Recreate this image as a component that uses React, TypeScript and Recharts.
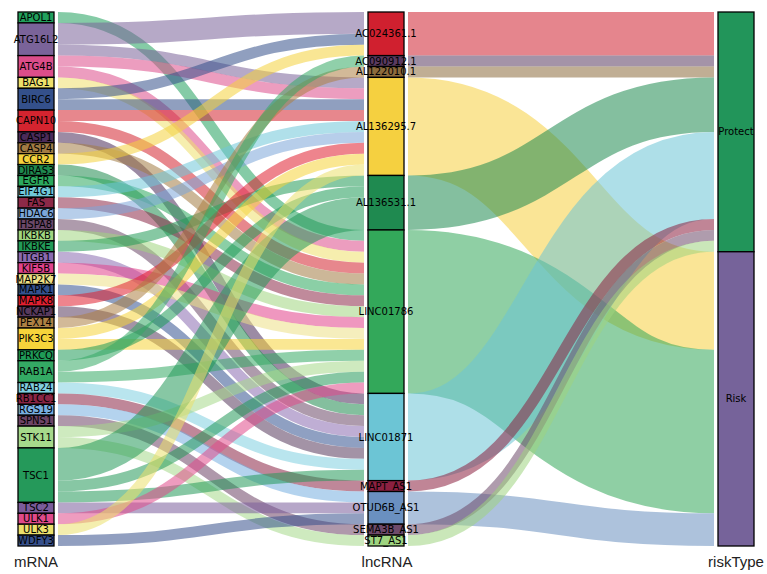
import React from 'react';
import { Sankey } from 'recharts';

const mrnaNames = [
  'APOL1', 'ATG16L2', 'ATG4B', 'BAG1', 'BIRC6', 'CAPN10', 'CASP1', 'CASP4', 'CCR2', 'DIRAS3',
  'EGFR', 'EIF4G1', 'FAS', 'HDAC6', 'HSPA8', 'IKBKB', 'IKBKE', 'ITGB1', 'KIF5B', 'MAP2K7',
  'MAPK1', 'MAPK8', 'NCKAP1', 'PEX14', 'PIK3C3', 'PRKCQ', 'RAB1A', 'RAB24', 'RB1CC1', 'RGS19',
  'SPNS1', 'STK11', 'TSC1', 'TSC2', 'ULK1', 'ULK3', 'WDFY3',
];
const mrnaColors = [
  '#21a05c', '#7a6399', '#dc4d8a', '#eee06b', '#34508b', '#d4242f', '#4b2b59', '#a27b43', '#f4d23c', '#1f8a4f',
  '#2ba85d', '#6fc7d8', '#8d2948', '#7ba6d9', '#6b4868', '#a0d67f', '#229b57', '#8a6bb0', '#e1428b', '#ede086',
  '#33528f', '#e01f2f', '#583a5d', '#ad8043', '#f6d43b', '#1f9b57', '#34a964', '#80cfe0', '#8a2545', '#77aee0',
  '#6d4466', '#a6d98b', '#25995a', '#7a5c9a', '#e04a8a', '#ebe06c', '#36508c',
];

const lncNames = [
  'AC024361.1', 'AC090912.1', 'AL122010.1', 'AL136295.7', 'AL136531.1', 'LINC01786',
  'LINC01871', 'MAPT_AS1', 'OTUD6B_AS1', 'SEMA3B_AS1', 'ST7_AS1',
];
const lncColors = [
  '#d0202f', '#5a3a60', '#8c6b3c', '#f5d040', '#1f8a50', '#33a85a',
  '#6cc5d5', '#8c2040', '#6a90c0', '#6e4a6a', '#9fd480',
];

const riskNames = ['Protect', 'Risk'];
const riskColors = ['#22955a', '#76639a'];

// mRNA -> lncRNA pairs (count of alluvia)
const mrnaLinks: [string, string, number][] = [
  ['APOL1', 'LINC01786', 1],
  ['ATG16L2', 'AC024361.1', 2],
  ['ATG16L2', 'AL136295.7', 1],
  ['ATG4B', 'AL136295.7', 1],
  ['ATG4B', 'LINC01786', 1],
  ['BAG1', 'LINC01786', 1],
  ['BIRC6', 'AC024361.1', 1],
  ['BIRC6', 'AL136295.7', 1],
  ['CAPN10', 'AL136295.7', 1],
  ['CAPN10', 'LINC01786', 1],
  ['CASP1', 'LINC01871', 1],
  ['CASP4', 'LINC01786', 1],
  ['CCR2', 'AC024361.1', 1],
  ['DIRAS3', 'LINC01871', 1],
  ['EGFR', 'LINC01786', 1],
  ['EIF4G1', 'AL136295.7', 1],
  ['FAS', 'LINC01786', 1],
  ['HDAC6', 'AL136295.7', 1],
  ['HSPA8', 'LINC01871', 1],
  ['IKBKB', 'LINC01786', 1],
  ['IKBKE', 'AL136531.1', 1],
  ['ITGB1', 'LINC01871', 1],
  ['KIF5B', 'LINC01786', 1],
  ['MAP2K7', 'LINC01786', 1],
  ['MAPK1', 'LINC01871', 1],
  ['MAPK8', 'AL136295.7', 1],
  ['NCKAP1', 'LINC01871', 1],
  ['PEX14', 'AL122010.1', 1],
  ['PIK3C3', 'AL136295.7', 1],
  ['PIK3C3', 'LINC01786', 1],
  ['PRKCQ', 'AL136531.1', 1],
  ['RAB1A', 'AC090912.1', 1],
  ['RAB1A', 'LINC01786', 1],
  ['RAB24', 'LINC01871', 1],
  ['RB1CC1', 'MAPT_AS1', 1],
  ['RGS19', 'OTUD6B_AS1', 1],
  ['SPNS1', 'SEMA3B_AS1', 1],
  ['STK11', 'LINC01786', 1],
  ['STK11', 'ST7_AS1', 1],
  ['TSC1', 'AL136531.1', 3],
  ['TSC1', 'LINC01786', 1],
  ['TSC1', 'LINC01871', 1],
  ['TSC2', 'OTUD6B_AS1', 1],
  ['ULK1', 'LINC01786', 1],
  ['ULK3', 'AL136295.7', 1],
  ['WDFY3', 'OTUD6B_AS1', 1],
];

// lncRNA -> risk type
const lncRisk = [
  'Protect', 'Protect', 'Protect', 'Risk', 'Protect', 'Risk',
  'Protect', 'Protect', 'Risk', 'Protect', 'Protect',
];

const nodes = [
  ...mrnaNames.map((name, i) => ({ name, color: mrnaColors[i], col: 0 })),
  ...lncNames.map((name, i) => ({ name, color: lncColors[i], col: 1 })),
  ...riskNames.map((name, i) => ({ name, color: riskColors[i], col: 2 })),
];
const indexOf = (name: string) => nodes.findIndex((n) => n.name === name);

const lncTotals = lncNames.map((l) =>
  mrnaLinks.filter((k) => k[1] === l).reduce((s, k) => s + k[2], 0),
);

const links = [
  ...mrnaLinks.map(([s, t, v]) => ({ source: indexOf(s), target: indexOf(t), value: v })),
  ...lncNames.map((l, i) => ({ source: indexOf(l), target: indexOf(lncRisk[i]), value: lncTotals[i] })),
];

const labelFont = '"DejaVu Sans", sans-serif';

function Node(props: any) {
  const { x, y, width, height, payload } = props;
  return (
    <g>
      <rect x={x} y={y} width={width} height={height} fill={payload.color} stroke="#000" strokeWidth={1.3} />
      <text
        x={x + width / 2}
        y={y + height / 2}
        textAnchor="middle"
        dominantBaseline="central"
        fontFamily={labelFont}
        fontSize={10}
        fill="#000"
      >
        {payload.name}
      </text>
    </g>
  );
}

function Link(props: any) {
  const { sourceX, targetX, sourceY, targetY, linkWidth, payload } = props;
  const sx = sourceX + 4;
  const tx = targetX - 4;
  const cx1 = sx + (tx - sx) * 0.5;
  const cx2 = tx - (tx - sx) * 0.5;
  return (
    <path
      d={`M${sx},${sourceY} C${cx1},${sourceY} ${cx2},${targetY} ${tx},${targetY}`}
      fill="none"
      stroke={payload.source.color}
      strokeOpacity={0.55}
      strokeWidth={linkWidth}
    />
  );
}

const axisTitles = [
  { text: 'mRNA', x: 36 },
  { text: 'lncRNA', x: 387 },
  { text: 'riskType', x: 736 },
];

export default function App() {
  return (
    <div style={{ position: 'absolute', left: 0, top: 0, width: 767, height: 574, background: '#fff' }}>
      <Sankey
        width={767}
        height={574}
        data={{ nodes, links }}
        nodeWidth={36}
        nodePadding={0}
        iterations={0}
        sort={false}
        margin={{ top: 12, right: 13, bottom: 28, left: 18 }}
        node={<Node />}
        link={<Link />}
      />
      {axisTitles.map((t) => (
        <div
          key={t.text}
          style={{
            position: 'absolute',
            left: t.x - 50,
            width: 100,
            top: 553,
            textAlign: 'center',
            fontFamily: '"Liberation Sans", Arial, sans-serif',
            fontSize: 15,
            color: '#222',
          }}
        >
          {t.text}
        </div>
      ))}
    </div>
  );
}
